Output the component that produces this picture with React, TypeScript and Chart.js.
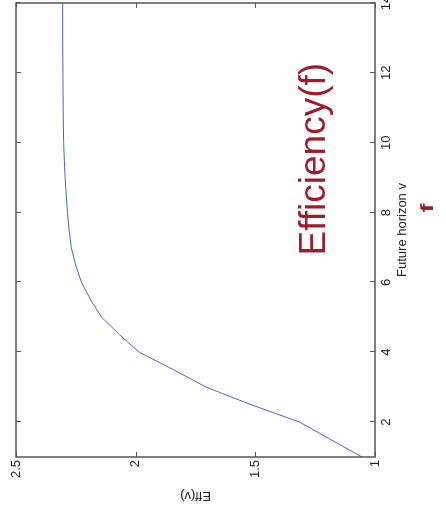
import React, { useEffect, useRef } from "react";
import { Chart, registerables } from "chart.js";

Chart.register(...registerables);

// Future horizon v (x values) and efficiency Eff(v)
const horizon: number[] = [1, 1.5, 2, 2.5, 3, 3.5, 4, 4.5, 5, 5.5, 6, 6.5, 7, 7.5, 8, 9, 10, 11, 12, 13, 14];
const efficiency: number[] = [1.054, 1.185, 1.315, 1.518, 1.705, 1.842, 1.985, 2.067, 2.142, 2.188, 2.226, 2.251, 2.269, 2.278, 2.285, 2.295, 2.301, 2.303, 2.304, 2.305, 2.305];
const horizonTicks: number[] = [2, 4, 6, 8, 10, 12, 14];
const effTicks: number[] = [1, 1.5, 2, 2.5];
const xTitle = "Future horizon v";
const yTitle = "Eff(v)";
const annotationText = "Efficiency(f)";
const markText = "f";

const FONT = "'Liberation Sans', Arial, Helvetica, sans-serif";
const RED = "#a11c2a";

const boxPlugin = {
  id: "matlabBox",
  afterDatasetsDraw(chart: any) {
    const { ctx, chartArea } = chart;
    const { left, right, top, bottom } = chartArea;
    const xs = chart.scales.x;
    const ys = chart.scales.y;
    const tl = 5;
    ctx.save();
    ctx.strokeStyle = "#555555";
    ctx.lineWidth = 1;
    ctx.beginPath();
    for (const v of horizonTicks) {
      const px = Math.round(xs.getPixelForValue(v)) + 0.5;
      ctx.moveTo(px, bottom);
      ctx.lineTo(px, bottom - tl);
      ctx.moveTo(px, top);
      ctx.lineTo(px, top + tl);
    }
    for (const v of effTicks) {
      const py = Math.round(ys.getPixelForValue(v)) + 0.5;
      ctx.moveTo(left, py);
      ctx.lineTo(left + tl, py);
      ctx.moveTo(right, py);
      ctx.lineTo(right - tl, py);
    }
    ctx.stroke();
    ctx.lineWidth = 1.5;
    ctx.strokeRect(left, top, right - left, bottom - top);
    // annotations
    ctx.fillStyle = RED;
    ctx.textBaseline = "alphabetic";
    ctx.textAlign = "left";
    ctx.font = `37px ${FONT}`;
    ctx.fillText(annotationText, xs.getPixelForValue(6.77), 325);
    ctx.translate(xs.getPixelForValue(8.0), 433);
    ctx.scale(1.5, 1);
    ctx.font = `bold 18px ${FONT}`;
    ctx.fillText(markText, 0, 0);
    ctx.restore();
  },
};

export default function App() {
  const ref = useRef<HTMLCanvasElement | null>(null);
  useEffect(() => {
    if (!ref.current) return;
    const chart = new Chart(ref.current, {
      type: "line",
      data: {
        datasets: [
          {
            data: horizon.map((v, i) => ({ x: v, y: efficiency[i] })),
            borderColor: "#4466cc",
            borderWidth: 1,
            pointRadius: 0,
            tension: 0,
            fill: false,
          },
        ],
      },
      options: {
        animation: false,
        responsive: false,
        maintainAspectRatio: false,
        layout: { padding: { top: 16, right: 3, left: 0, bottom: 0 } },
        plugins: { legend: { display: false }, tooltip: { enabled: false } },
        scales: {
          x: {
            type: "linear",
            min: 1,
            max: 14,
            afterBuildTicks: (s: any) => {
              s.ticks = horizonTicks.map((v) => ({ value: v }));
            },
            afterFit: (s: any) => {
              s.height = 71;
              s.paddingLeft = 0;
              s.paddingRight = 0;
            },
            grid: { display: false, drawTicks: false },
            border: { display: false },
            ticks: { color: "#222", padding: 4, maxRotation: 0, autoSkip: false, font: { family: FONT, size: 13 } },
            title: { display: true, text: xTitle, color: "#222", font: { family: FONT, size: 13 }, padding: { top: 0, bottom: 36 } },
          },
          y: {
            type: "linear",
            min: 1,
            max: 2.5,
            afterBuildTicks: (s: any) => {
              s.ticks = effTicks.map((v) => ({ value: v }));
            },
            afterFit: (s: any) => {
              s.width = 65;
              s.paddingTop = 0;
              s.paddingBottom = 0;
            },
            grid: { display: false, drawTicks: false },
            border: { display: false },
            ticks: { color: "#222", padding: 3, autoSkip: false, font: { family: FONT, size: 13 }, callback: (v: any) => String(v) },
            title: { display: true, text: yTitle, color: "#222", font: { family: FONT, size: 13 }, padding: { top: 19, bottom: 0 } },
          },
        },
      },
      plugins: [boxPlugin],
    });
    return () => chart.destroy();
  }, []);

  return (
    <div style={{ position: "fixed", left: 0, top: 0, width: 446, height: 522, overflow: "hidden", background: "#fff" }}>
      <div
        style={{
          position: "absolute",
          left: 0,
          top: 0,
          width: 522,
          height: 446,
          transformOrigin: "0 0",
          transform: "translate(0px, 522px) rotate(-90deg)",
        }}
      >
        <canvas ref={ref} width={522} height={446} style={{ width: 522, height: 446, display: "block" }} />
      </div>
    </div>
  );
}
